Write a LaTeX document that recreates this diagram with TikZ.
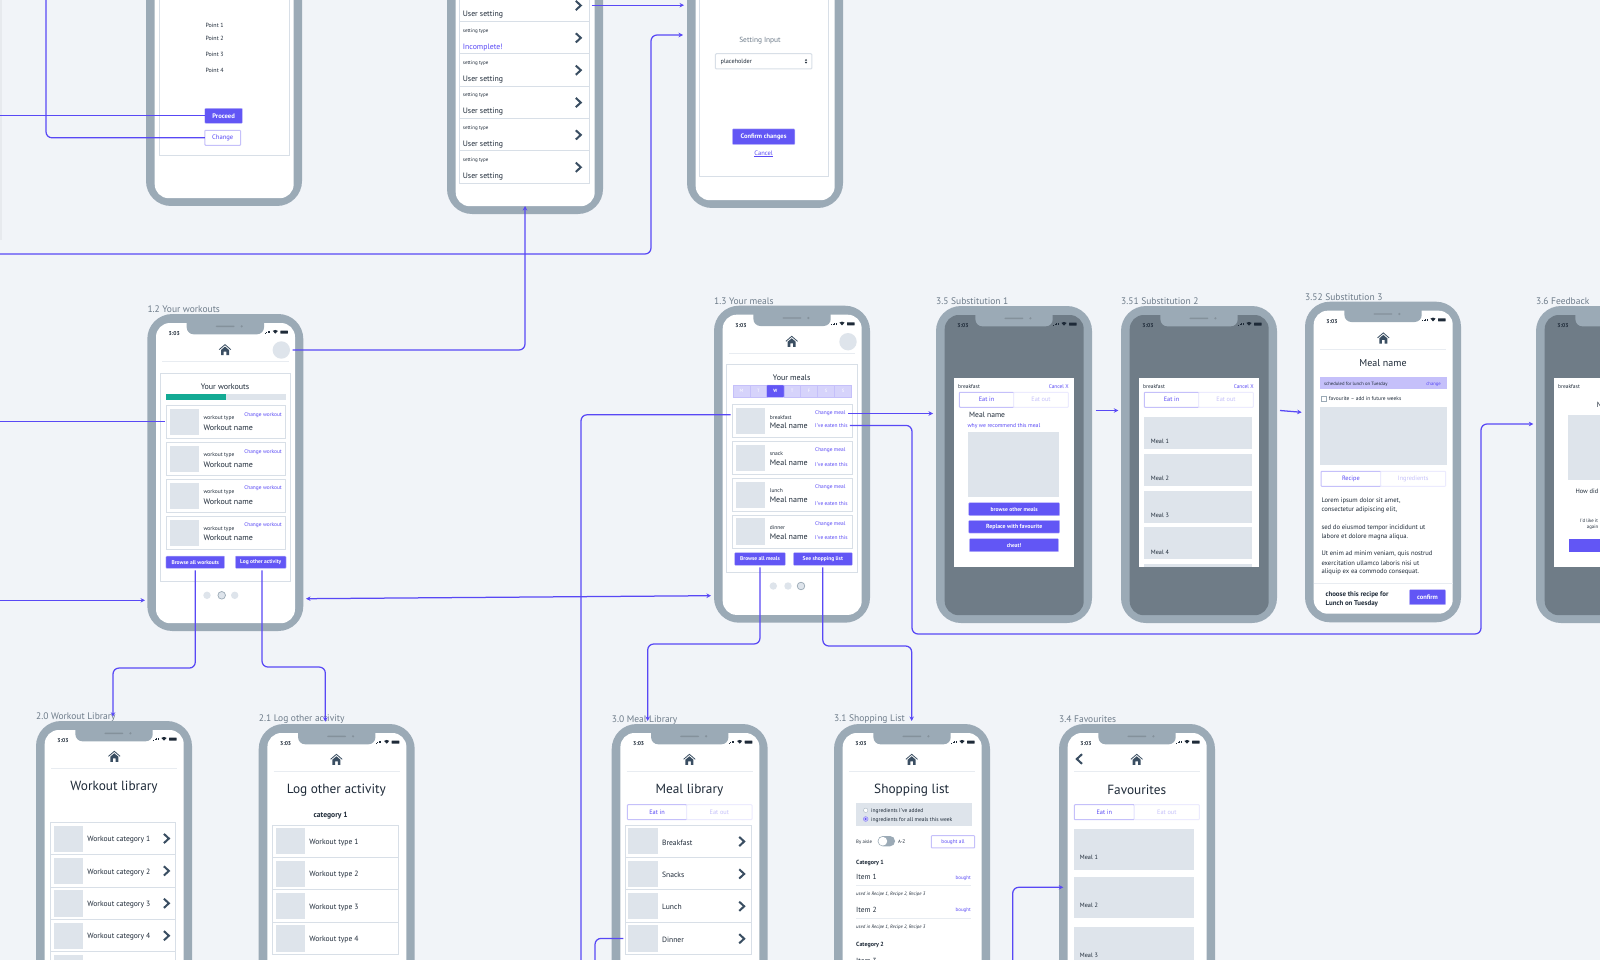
\documentclass[tikz,border=0pt]{standalone}
\usepackage{fontspec}
\setmainfont{PT Sans}
\usetikzlibrary{arrows.meta, calc}
\definecolor{pagebg}{RGB}{241, 244, 248}
\definecolor{framegray}{RGB}{155, 170, 182}
\definecolor{darkscreen}{RGB}{111, 124, 135}
\definecolor{labelgray}{RGB}{110, 124, 138}
\definecolor{thumbgray}{RGB}{222, 228, 235}
\definecolor{linegray}{RGB}{216, 223, 231}
\definecolor{rulegray}{RGB}{232, 236, 241}
\definecolor{flowblue}{RGB}{88, 72, 245}
\definecolor{btnblue}{RGB}{98, 86, 245}
\definecolor{lilac}{RGB}{197, 192, 250}
\definecolor{palelilac}{RGB}{236, 235, 254}
\definecolor{inkdark}{RGB}{30, 42, 56}
\definecolor{slate}{RGB}{58, 78, 98}
\definecolor{barteal}{RGB}{20, 170, 148}
\newcommand{\fs}[1]{\fontsize{#1}{#1}\selectfont}
\tikzset{
    >={Stealth[length=4.5pt, width=4.5pt]},
    frame/.style={rectangle, fill=framegray, rounded corners=25pt, minimum width=156pt, minimum height=317pt, anchor=north west, inner sep=0pt, outer sep=0pt},
    screen/.style={rectangle, fill=white, rounded corners=14pt, minimum width=139pt, minimum height=300.2pt, anchor=north west, inner sep=0pt, outer sep=0pt},
    darkpanel/.style={screen, fill=darkscreen},
    wire/.style={draw, flowblue, line width=1.25pt},
    flow/.style={wire, ->},
    hairline/.style={draw=rulegray, line width=1pt},
    cardbox/.style={draw=linegray, line width=1pt, fill=white},
    rowbox/.style={rectangle, draw=linegray, line width=1pt, fill=white, anchor=north west, inner sep=0pt, outer sep=0pt},
    tag/.style={inner sep=0pt, anchor=west, yshift=-.8pt, text=inkdark, font=\fs{5.5}},
    rowtext/.style={tag, font=\fs{7.6}},
    namex/.style={tag, font=\fs{8}},
    link/.style={tag, text=flowblue, font=\fs{5.4}},
    head/.style={inner sep=0pt, yshift=-.8pt, text=inkdark, font=\fs{8}},
    title/.style={inner sep=0pt, yshift=-1.2pt, text=inkdark, font=\fs{13.3}},
    phonelabel/.style={inner sep=0pt, anchor=west, yshift=-.8pt, text=labelgray, font=\fs{9.5}},
    btn/.style={rectangle, fill=btnblue, draw=lilac, line width=.4pt, text=white, inner sep=0pt, outer sep=0pt, rounded corners=.8pt, font=\bfseries\fs{5.5}},
    ghost/.style={btn, fill=white, draw=lilac, line width=1pt, text=flowblue},
    tabon/.style={rectangle, draw=lilac, line width=1pt, fill=white, text=flowblue, rounded corners=.8pt, anchor=north west, inner sep=0pt, outer sep=0pt, minimum height=15pt, font=\fs{6.3}},
    taboff/.style={tabon, draw=palelilac, text=lilac},
    avatar/.style={circle, fill=thumbgray, minimum size=17.4pt, inner sep=0pt, outer sep=0pt},
    chev/.style={draw=slate, line width=2pt, miter limit=10},
}
% phone body only, for the phones cut off at the top
\newcommand{\phonebody}[4]{%
    \node[frame] (#1) at (#2,#3) {};
    \node[#4] (#1scr) at (#2+8.7,#3+9) {};
}
% phone body with notch and status bar
\newcommand{\phone}[5]{%
    \phonebody{#1}{#2}{#3}{#5}
    \node[phonelabel] (#1lab) at (#2,#3-5.2) {#4};
    \begin{scope}[shift={(#2,#3)}]
        \fill[framegray, rounded corners=7pt] (39.4,1) rectangle (116.7,20.3);
        \fill[framegray!85!black, rounded corners=.8pt] (68.4,11.6) rectangle (87.4,13);
        \fill[framegray!85!black] (94.4,12.3) circle (1.2pt);
        \node[tag, font=\bfseries\fs{5.6}] (#1time) at (21.2,18.6) {3:03};
        \foreach \b in {0,1,2,3} \fill[inkdark] (117.2+1.5*\b,19.4) rectangle ++(1,-.8-.6*\b);
        \fill[inkdark] (128,19.6) -- (125.4,16.9) .. controls (127,15.6) and (129,15.6) .. (130.6,16.9) -- cycle;
        \fill[inkdark, rounded corners=.4pt] (133,16.6) rectangle (140.6,19.6);
    \end{scope}
}
\newcommand{\homebar}[2]{%
    \fill[slate] (#1-4,#2+5.2) -- (#1-4,#2) -- (#1,#2-3.4) -- (#1+4,#2) -- (#1+4,#2+5.2) -- (#1+1.4,#2+5.2) -- (#1+1.4,#2+1.6) -- (#1-1.4,#2+1.6) -- (#1-1.4,#2+5.2) -- cycle;
    \draw[slate, line width=.8pt] (#1-5.8,#2-.4) -- (#1,#2-5.4) -- (#1+5.8,#2-.4);
    \draw[hairline] (15,47.3) -- (141.4,47.3);
}
\newcommand{\chevron}[2]{\draw[chev] (#1-2.8,#2-4.6) -- (#1+2.2,#2) -- (#1-2.8,#2+4.6);}
% list row with a picture and one line of text
\newcommand{\librow}[5]{%
    \node[rowbox, minimum width=#4 pt, minimum height=32.4pt] (#1) at (#2,#3) {};
    \fill[thumbgray] (#2+3,#3+3.2) rectangle ++(29.3,26.2);
    \node[rowtext] (#1txt) at (#2+36.5,#3+16.6) {#5};
}
% two tabs side by side
\newcommand{\tabs}[7]{%
    \node[tabon, minimum width=#4 pt] (#1on) at (#2,#3) {#6};
    \node[taboff, minimum width=#5 pt] (#1off) at (#1on.north east) {#7};
}
% modal with heading line, shared by the dark screens
\newcommand{\modal}[1]{%
    \fill[white] (18.3,71.7) rectangle (138.3,260.7);
    \node[tag] (#1brk) at (22,80) {breakfast};
}
\begin{document}
\begin{tikzpicture}[x=1pt, y=-1pt]
    \clip (0,0) rectangle (1600,960);
    \fill[pagebg] (0,0) rectangle (1600,960);
    \fill[pagebg!96!black] (0,0) rectangle (1.6,240);

    % Top row
    \phonebody{phA}{146}{-111}{screen}
    \draw[cardbox] (159,-20) rectangle (289.3,155.7);
    \node[tag, font=\fs{6}] (pt1) at (205.3,24.3) {Point 1};
    \node[tag, font=\fs{6}] (pt2) at (205.3,38) {Point 2};
    \node[tag, font=\fs{6}] (pt3) at (205.3,53.7) {Point 3};
    \node[tag, font=\fs{6}] (pt4) at (205.3,69.3) {Point 4};
    \node[btn, minimum width=37.7pt, minimum height=15pt, font=\bfseries\fs{6.6}] (proceed) at (223.6,115.8) {Proceed};
    \node[ghost, minimum width=35.8pt, minimum height=15pt, font=\fs{6.6}] (change) at (222.7,137.8) {Change};

    \phonebody{phB}{447}{-103}{screen}
    \foreach \i/\val in {0/User setting, 1/Incomplete!, 2/User setting, 3/User setting, 4/User setting, 5/User setting} {
        \begin{scope}[shift={(459.2,-11+32.35*\i)}]
            \node[rowbox, minimum width=130.4pt, minimum height=32.35pt] (set\i) at (0,0) {};
            \ifnum\i=1
                \node[tag, text=flowblue, font=\fs{7.8}] (set\i val) at (3.5,25) {\val};
            \else
                \node[tag, font=\fs{7.8}] (set\i val) at (3.5,25) {\val};
            \fi
            \ifnum\i>0
                \node[tag, font=\fs{5}] (set\i type) at (3.5,8.7) {setting type};
            \fi
            \chevron{119.4}{16.5}
        \end{scope}
    }

    \phonebody{phC}{687}{-109}{screen}
    \draw[cardbox] (699.3,-20) rectangle (828,176.7);
    \node[head, text=labelgray, font=\fs{7.4}] (setinput) at (760,40) {Setting Input};
    \node[rowbox, minimum width=96.4pt, minimum height=15.3pt, rounded corners=1pt] (selectbox) at (715.4,53.7) {};
    \node[tag, font=\fs{6.2}] (selecttxt) at (720.5,61.3) {placeholder};
    \fill[inkdark] (804.8,60.6) -- (806,59) -- (807.2,60.6) -- cycle (804.8,62) -- (806,63.6) -- (807.2,62) -- cycle;
    \node[btn, minimum width=62.4pt, minimum height=15.7pt, font=\bfseries\fs{6.5}] (confirmset) at (763.6,136.8) {Confirm changes};
    \node[inner sep=0pt, yshift=-.6pt, text=flowblue, font=\fs{6.5}] (cancelset) at (763.6,153.3) {\underline{Cancel}};

    % 1.2 Your workouts
    \phone{ph12}{147.3}{314}{1.2 Your workouts}{screen}
    \begin{scope}[shift={(147.3,314)}]
        \homebar{77.7}{36}
        \node[avatar] (av12) at (134,36) {};
        \draw[cardbox] (13.4,59.7) rectangle (143,267);
        \node[head] (wkhead) at (77.7,72) {Your workouts};
        \fill[thumbgray] (18.7,80.3) rectangle (138.4,86.3);
        \fill[barteal] (18.7,80.3) rectangle (79,86.3);
        \foreach \i in {0,1,2,3} {
            \begin{scope}[shift={(18.7,91.3+36.9*\i)}]
                \node[rowbox, minimum width=119.8pt, minimum height=33pt] (wk\i) at (0,0) {};
                \fill[thumbgray] (3.7,3.7) rectangle (33,30);
                \node[tag] (wk\i type) at (37.3,12.4) {workout type};
                \node[namex] (wk\i name) at (37.3,21.4) {Workout name};
                \node[link, anchor=east] (wk\i chg) at (116,8.7) {Change workout};
            \end{scope}
        }
        \node[btn, minimum width=58.7pt, minimum height=12.3pt] (brwk) at (48,248.2) {Browse all workouts};
        \node[btn, minimum width=50.7pt, minimum height=12.3pt] (logact) at (113.4,248.2) {Log other activity};
        \fill[thumbgray] (59.7,281.3) circle (3.7pt) (87.4,281.3) circle (3.7pt);
        \draw[framegray, fill=thumbgray, line width=.7pt] (74.4,281.3) circle (3.8pt);
    \end{scope}

    % 1.3 Your meals
    \phone{ph13}{714}{305.7}{1.3 Your meals}{screen}
    \begin{scope}[shift={(714,305.7)}]
        \homebar{77.7}{36}
        \node[avatar] (av13) at (134,36) {};
        \draw[cardbox] (12.7,59) rectangle (143,267);
        \node[head] (mlhead) at (77.7,71.6) {Your meals};
        \foreach \i/\d in {0/M,1/T,3/T,4/F,5/S,6/S} {
            \node[rectangle, fill=lilac!70, draw=lilac, line width=.4pt, anchor=north west, minimum width=16.9pt, minimum height=12.3pt, inner sep=0pt, text=white, font=\fs{4.6}] (day\i) at (18.7+16.94*\i,79.3) {\d};
        }
        \node[btn, anchor=north west, minimum width=17.6pt, minimum height=12.3pt, font=\bfseries\fs{4.6}] (day2) at (18.7+33.88,79.3) {W};
        \foreach \i/\ty/\ey in {0/breakfast/20.3, 1/snack/23, 2/lunch/24.3, 3/dinner/22.3} {
            \begin{scope}[shift={(18.7,98.6+36.9*\i)}]
                \node[rowbox, minimum width=120pt, minimum height=33pt] (ml\i) at (0,0) {};
                \fill[thumbgray] (3.3,3.4) rectangle (32.3,29.7);
                \node[tag] (ml\i type) at (37,12) {\ty};
                \node[namex] (ml\i name) at (37,21) {Meal name};
                \node[link, anchor=west] (chgmeal\i) at (82.3,8.4) {Change meal};
                \node[link, anchor=west] (eaten\i) at (82.3,\ey) {I've eaten this};
            \end{scope}
        }
        \node[btn, minimum width=50.6pt, minimum height=12.6pt] (brml) at (46,253.3) {Browse all meals};
        \node[btn, minimum width=59pt, minimum height=12.6pt] (shop) at (108.8,253.3) {See shopping list};
        \fill[thumbgray] (59.3,280.3) circle (3.7pt) (74,280.3) circle (3.7pt);
        \draw[framegray, fill=thumbgray, line width=.7pt] (87,280.3) circle (3.8pt);
    \end{scope}

    % 3.5 Substitution 1
    \phone{ph35}{936}{306}{3.5 Substitution 1}{darkpanel}
    \begin{scope}[shift={(936,306)}]
        \modal{sa}
        \node[link, anchor=east] (sacancel) at (133,80) {Cancel X};
        \tabs{sa}{23.3}{86.3}{54.4}{54.6}{Eat in}{Eat out}
        \node[tag, font=\fs{7.6}] (saname) at (33,108.3) {Meal name};
        \node[link, font=\fs{5.7}] (sawhy) at (31.3,119.7) {why we recommend this meal};
        \fill[thumbgray] (31.7,125.7) rectangle (123.3,190.7);
        \node[btn, minimum width=91pt, minimum height=13pt, font=\bfseries\fs{5.6}] (sabrowse) at (78.2,203.2) {browse other meals};
        \node[btn, minimum width=91pt, minimum height=12.7pt, font=\bfseries\fs{5.9}] (sareplace) at (78.2,220.7) {Replace with favourite};
        \node[btn, minimum width=89.3pt, minimum height=13pt] (sacheat) at (78,239.2) {cheat!};
    \end{scope}

    % 3.51 Substitution 2
    \phone{ph351}{1121}{306}{3.51 Substitution 2}{darkpanel}
    \begin{scope}[shift={(1121,306)}]
        \modal{sb}
        \node[link, anchor=east] (sbcancel) at (133,80) {Cancel X};
        \tabs{sb}{23.3}{86.3}{54.4}{54.6}{Eat in}{Eat out}
        \foreach \i in {1,2,3,4} {
            \fill[thumbgray] (23.3,110.7+36.9*\i-36.9) rectangle ++(108,32);
            \node[tag, font=\fs{6.2}] (sbmeal\i) at (29.7,135+36.9*\i-36.9) {Meal \i};
        }
        \fill[thumbgray] (23.3,258.3) rectangle (131.3,260.7);
    \end{scope}

    % 3.52 Substitution 3
    \begin{scope}[frame/.append style={minimum height=320.6pt}, screen/.append style={minimum height=303pt}]
        \phone{ph352}{1305}{301.7}{3.52 Substitution 3}{screen}
    \end{scope}
    \begin{scope}[shift={(1305,301.7)}]
        \homebar{78.3}{36.6}
        \node[head, font=\fs{10}] (scname) at (78,61) {Meal name};
        \fill[lilac] (15,75) rectangle (141.7,87.7);
        \node[tag, font=\fs{4.7}] (scsched) at (19,81.4) {scheduled for lunch on Tuesday};
        \node[link, anchor=east, font=\fs{4.7}] (scchange) at (136,81.4) {change};
        \draw[framegray, fill=white, line width=.4pt] (16,94.4) rectangle (21,99);
        \node[tag, font=\fs{5.4}] (scfav) at (23.7,96.6) {favourite -- add in future weeks};
        \fill[thumbgray] (15,105.6) rectangle (141.7,163);
        \tabs{sc}{16}{169.6}{59.7}{65}{Recipe}{Ingredients}
        \foreach \i/\yy/\t in {1/198.7/Lorem ipsum dolor sit amet{,}, 2/207.6/consectetur adipiscing elit{,}, 3/225/sed do eiusmod tempor incididunt ut, 4/234/labore et dolore magna aliqua., 5/251.6/Ut enim ad minim veniam{,} quis nostrud, 6/260.3/exercitation ullamco laboris nisi ut, 7/269.3/aliquip ex ea commodo consequat.} {
            \node[tag, font=\fs{6.6}] (sctext\i) at (16.3,\yy) {\t};
        }
        \draw[hairline] (8.7,282) -- (147.7,282);
        \node[tag, font=\bfseries\fs{6.9}] (scchoose) at (20.3,292) {choose this recipe for};
        \node[tag, font=\bfseries\fs{6.9}] (sclunch) at (20.3,301) {Lunch on Tuesday};
        \node[btn, minimum width=36.4pt, minimum height=15pt, font=\bfseries\fs{6.5}] (scconfirm) at (122.5,295.5) {confirm};
    \end{scope}

    % 3.6 Feedback
    \phone{ph36}{1536}{306}{3.6 Feedback}{darkpanel}
    \begin{scope}[shift={(1536,306)}]
        \modal{fb}
        \node[head, font=\fs{7.6}, anchor=west] (fbname) at (60.7,97.7) {Meal name};
        \fill[thumbgray] (32,109.3) rectangle (130,174);
        \node[tag, font=\fs{6.4}] (fbhow) at (39.3,184.3) {How did};
        \node[tag, font=\fs{4.8}] (fblike) at (44,213.7) {I'd like it};
        \node[tag, font=\fs{4.8}] (fbagain) at (50.7,221) {again};
        \fill[btnblue] (33.3,232.7) rectangle (123,245.7);
    \end{scope}

    % 2.0 Workout library
    \phone{ph20}{36}{721}{2.0 Workout Library}{screen}
    \begin{scope}[shift={(36,721)}]
        \homebar{78.3}{35.7}
        \node[title] (wltitle) at (78,65) {Workout library};
        \foreach \i in {1,2,3,4} {
            \librow{wl\i}{14.7}{101.3+32.4*\i-32.4}{125}{Workout category \i}
            \chevron{130.7}{117.5+32.4*\i-32.4}
        }
        \node[rowbox, minimum width=125pt, minimum height=32.4pt] (wl5) at (14.7,230.9) {};
        \fill[thumbgray] (17.7,234.1) rectangle ++(29.3,26.2);
    \end{scope}

    % 2.1 Log other activity
    \phone{ph21}{258.7}{724}{2.1 Log other activity}{screen}
    \begin{scope}[shift={(258.7,724)}]
        \homebar{77.7}{35.7}
        \node[title] (lotitle) at (77.7,64.7) {Log other activity};
        \node[head, font=\bfseries\fs{7.6}] (locat) at (72,90.7) {category 1};
        \foreach \i in {1,2,3,4} {
            \librow{lo\i}{14}{101+32.4*\i-32.4}{125.7}{Workout type \i}
        }
    \end{scope}

    % 3.0 Meal library
    \phone{ph30}{611.7}{724}{3.0 Meal Library}{screen}
    \begin{scope}[shift={(611.7,724)}]
        \homebar{77.7}{35.7}
        \node[title] (mltitle) at (77.7,64.7) {Meal library};
        \tabs{mb}{15.7}{80.7}{59.3}{65.3}{Eat in}{Eat out}
        \foreach \i/\t in {1/Breakfast,2/Snacks,3/Lunch,4/Dinner} {
            \librow{mb\i}{13.7}{101+32.4*\i-32.4}{126}{\t}
            \chevron{130.3}{117.5+32.4*\i-32.4}
        }
    \end{scope}

    % 3.1 Shopping list
    \phone{ph31}{834}{724}{3.1 Shopping List}{screen}
    \begin{scope}[shift={(834,724)}]
        \homebar{77.7}{35.7}
        \node[title] (sltitle) at (77.7,64.7) {Shopping list};
        \fill[thumbgray] (22,78.7) rectangle (138.3,101.7);
        \draw[framegray, fill=white, line width=.3pt] (31.7,86.3) circle (2.2pt);
        \draw[flowblue!70, fill=lilac, line width=.4pt] (31.7,95) circle (2.4pt);
        \fill[flowblue] (31.7,95) circle (1pt);
        \node[tag] (slopt1) at (37,86.3) {ingredients I've added};
        \node[tag] (slopt2) at (37,95) {ingredients for all meals this week};
        \node[tag, font=\fs{4.8}] (slaisle) at (22,117.3) {By aisle};
        \fill[framegray, rounded corners=5pt] (43.7,112) rectangle (61,122.3);
        \fill[white] (48.8,117.2) circle (4.4pt);
        \node[tag, font=\fs{4.8}] (slaz) at (64,117.3) {A-Z};
        \node[ghost, minimum width=43.4pt, minimum height=12.3pt, font=\fs{5.3}] (slall) at (119,117.8) {bought all};
        \foreach \c/\yy/\t in {1/138/Category 1, 2/220/Category 2} {
            \node[tag, font=\bfseries\fs{6}] (slcat\c) at (22,\yy) {\t};
        }
        \foreach \i/\yy in {1/152.3, 2/184.7, 3/236.5} {
            \node[tag, font=\fs{7.4}] (slitem\i) at (22,\yy) {Item \i};
        }
        \foreach \i/\yy in {1/153.3, 2/185.7} {
            \node[link, anchor=east, font=\fs{5}] (slbuy\i) at (137,\yy) {bought};
            \draw[hairline] (22,\yy+8.4) -- (137,\yy+8.4);
            \node[tag, font=\itshape\fs{4.8}] (slused\i) at (22,\yy+16.4) {used in Recipe 1, Recipe 2, Recipe 3};
        }
    \end{scope}

    % 3.4 Favourites
    \phone{ph34}{1059}{724}{3.4 Favourites}{screen}
    \begin{scope}[shift={(1059,724)}]
        \homebar{77.7}{35.7}
        \draw[chev] (23,30.2) -- (17.8,35) -- (23,39.8);
        \node[title] (fvtitle) at (77.7,64.7) {Favourites};
        \tabs{fv}{15.3}{80.7}{60}{65}{Eat in}{Eat out}
        \foreach \i/\yy in {1/104.7, 2/152.7, 3/203} {
            \fill[thumbgray] (14.7,\yy) rectangle ++(120.6,41);
            \node[tag, font=\fs{6.2}] (fvmeal\i) at (20.7,\yy+27.5) {Meal \i};
        }
    \end{scope}

    % Free ends of the connectors
    \coordinate (edgeproceed) at (0,115.8);
    \coordinate (edgechange) at (46,-5);
    \coordinate (edgesetting) at (-5,254);
    \coordinate (bendsetting) at (651,35);
    \coordinate (insetting) at (683,35);
    \coordinate (edgeworkout) at (-5,421.8);
    \coordinate (edgeswipe) at (-5,600.3);
    \coordinate (inswipe) at (145,600.3);
    \coordinate (meetleft) at (306,598.7);
    \coordinate (meetright) at (711,595.7);
    \coordinate (in20) at (113,716.7);
    \coordinate (in21) at (325.3,721.7);
    \coordinate (in30) at (647.7,721);
    \coordinate (in31) at (911.7,721);
    \coordinate (edgemeal) at (581,965);
    \coordinate (edgedinner) at (595,965);
    \coordinate (edgefav) at (1012.7,965);
    \coordinate (infav) at (1063.3,887.3);
    \coordinate (eatlow) at (912,634);
    \coordinate (eatup) at (1481,424);
    \coordinate (infeedback) at (1533.3,424);

    % Connectors
    \draw[wire] (edgeproceed) -- (proceed.west);
    \draw[wire, rounded corners=6pt] (edgechange) |- (change.west);
    \draw[flow, shorten <=2pt, shorten >=3pt] (set0.east) -- (set0.east -| phC.west);
    \draw[flow, rounded corners=6pt] (edgesetting) -| (bendsetting) -- (insetting);
    \draw[flow, rounded corners=6pt, shorten <=2.5pt] (av12.east) -| ($(phB.south)+(0,-8)$);
    \draw[wire, shorten >=1.5pt] (edgeworkout) -- (wk0.west);
    \draw[flow] (edgeswipe) -- (inswipe);
    \draw[flow, <->] (meetleft) -- (meetright);
    \draw[flow, rounded corners=6pt, shorten <=2pt] (brwk.south) -- ++(0,99.7) -| (in20);
    \draw[flow, rounded corners=6pt, shorten <=2pt] ($(logact.south)+(1.3,0)$) -- ++(0,98.7) -| (in21);
    \draw[flow, rounded corners=6pt, shorten <=2pt] (brml.south) -- ++(0,78.7) -| (in30);
    \draw[flow, rounded corners=6pt, shorten <=2pt] (shop.south) -- ++(0,80.7) -| (in31);
    \draw[wire, rounded corners=6pt, shorten <=2pt] ($(ml0.west)+(0,-6)$) -| (edgemeal);
    \draw[wire, rounded corners=6pt, shorten <=2pt] (mb4.west) -| (edgedinner);
    \draw[flow, shorten <=2.5pt, shorten >=3pt] (chgmeal0.east) -- (chgmeal0.east -| ph35.west);
    \draw[flow, rounded corners=6pt, shorten <=2pt] (eaten0.east) -| (eatlow) -| (eatup) -- (infeedback);
    \draw[flow] ($(ph35.east)+(3.7,-54)$) -- ($(ph351.west)+(-2.7,-54)$);
    \draw[flow] ($(ph351.east)+(3,-54)$) -- ($(ph352.west)+(-3.3,-49.7)$);
    \draw[flow, rounded corners=6pt] (edgefav) |- (infav);
\end{tikzpicture}
\end{document}
